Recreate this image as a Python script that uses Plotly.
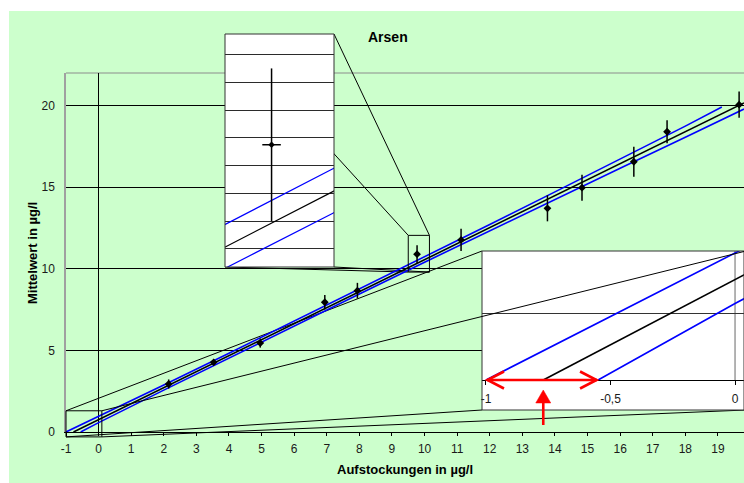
import plotly.graph_objects as go

# ---------------- data (µg/l) ----------------
# spike level, mean value found and their standard deviations
spike = [2.15, 3.53, 4.96, 6.94, 7.94, 9.77, 11.12, 13.77, 14.83, 16.42, 17.44, 19.65]
mean_found = [2.94, 4.27, 5.45, 7.95, 8.66, 10.90, 11.77, 13.71, 14.97, 16.56, 18.40, 20.06]
sd_found = [0.28, 0.16, 0.28, 0.45, 0.48, 0.55, 0.68, 0.80, 0.80, 0.92, 0.71, 0.80]
sd_spike = [0.035, 0.035, 0.035, 0.035, 0.035, 0.035, 0.035, 0.035, 0.035, 0.035, 0.035, 0.035]

# calibration line
fit_x = [-0.77, 19.8]
fit_y = [0.0, 20.17]

# upper and lower confidence limits
band_hi_x = [-1.0, 0, 2, 4, 6, 8, 10, 12, 14, 16, 18, 19.12]
band_hi_y = [0.0, 0.955, 2.885, 4.825, 6.785, 8.755, 10.725, 12.715, 14.715, 16.725, 18.745, 19.92]
band_lo_x = [-0.55, 0, 2, 4, 6, 8, 10, 12, 14, 16, 18, 19.8]
band_lo_y = [0.0, 0.575, 2.565, 4.545, 6.505, 8.455, 10.405, 12.335, 14.255, 16.165, 18.065, 19.79]

# axis ticks
x_tick_vals = [-1, 0, 1, 2, 3, 4, 5, 6, 7, 8, 9, 10, 11, 12, 13, 14, 15, 16, 17, 18, 19]
x_tick_text = ["-1", "0", "1", "2", "3", "4", "5", "6", "7", "8", "9", "10",
               "11", "12", "13", "14", "15", "16", "17", "18", "19"]
y_tick_vals = [0, 5, 10, 15, 20]
zoom_tick_vals = [-1, -0.5, 0]
zoom_tick_text = ["-1", "-0,5", "0"]

# ---------------- geometry ----------------
W, H = 744, 483
ML, MR, MT, MB = 66, 0, 30, 51
PW, PH = W - ML - MR, H - MT - MB
BOTTOM = H - MB          # pixel row of the x axis
MAIN_TOP = 73            # pixel row of the top of the main plot

FONT = "Liberation Sans, Arial, Helvetica, sans-serif"
GREEN = "#CCFFCC"
BLUE = "#0000FF"
RED = "#FF0000"


def fx(xp):
    """pixel column -> paper x"""
    return (xp - ML) / PW


def fy(yp):
    """pixel row -> paper y"""
    return (BOTTOM - yp) / PH


MAIN_X = [-1, 19.8]
MAIN_Y = [0, 22]
MAIN_BOX = (ML, MAIN_TOP, W, BOTTOM)

# magnified views: pixel box (left, top, right, bottom) and axis ranges
ZOOM1_BOX = (225, 34, 334, 267)
ZOOM1_X = [9.594, 10.006]
ZOOM1_Y = [10.019, 11.698]
ZOOM2_BOX = (482, 251, 744, 410)
ZOOM2_X = [-1.016, 0.036]
ZOOM2_Y = [-0.2256, 0.97]

# regions of the main plot that the magnified views show
REGION1 = ([9.5, 10.15], [9.8, 12.05])
REGION2 = ([-1.0, 0.1], [-0.3, 1.3])


def to_px(box, xr, x):
    return box[0] + (x - xr[0]) / (xr[1] - xr[0]) * (box[2] - box[0])


def to_py(box, yr, y):
    return box[3] - (y - yr[0]) / (yr[1] - yr[0]) * (box[3] - box[1])


def region_px(region):
    xr, yr = region
    return (to_px(MAIN_BOX, MAIN_X, xr[0]), to_py(MAIN_BOX, MAIN_Y, yr[1]),
            to_px(MAIN_BOX, MAIN_X, xr[1]), to_py(MAIN_BOX, MAIN_Y, yr[0]))


fig = go.Figure()


def add_series(xa, ya, lw, msize):
    fig.add_trace(go.Scatter(x=band_hi_x, y=band_hi_y, mode="lines",
                             line=dict(color=BLUE, width=lw), xaxis=xa, yaxis=ya,
                             showlegend=False, hoverinfo="skip"))
    fig.add_trace(go.Scatter(x=band_lo_x, y=band_lo_y, mode="lines",
                             line=dict(color=BLUE, width=lw), xaxis=xa, yaxis=ya,
                             showlegend=False, hoverinfo="skip"))
    fig.add_trace(go.Scatter(x=fit_x, y=fit_y, mode="lines",
                             line=dict(color="black", width=lw), xaxis=xa, yaxis=ya,
                             showlegend=False, hoverinfo="skip"))
    fig.add_trace(go.Scatter(
        x=spike, y=mean_found, mode="markers",
        marker=dict(symbol="diamond", size=msize, color="black"),
        error_y=dict(type="data", array=sd_found, color="black", thickness=1.5, width=0),
        error_x=dict(type="data", array=sd_spike, color="black", thickness=1.5, width=0),
        xaxis=xa, yaxis=ya, showlegend=False))


add_series("x", "y", 1.6, 6)
add_series("x2", "y2", 1.2, 5)
add_series("x3", "y3", 1.6, 5)

shapes = []

# green chart area
shapes.append(dict(type="rect", xref="paper", yref="paper", layer="below",
                   x0=fx(9), x1=fx(W) + 0.01, y0=fy(H) - 0.01, y1=fy(11),
                   fillcolor=GREEN, line=dict(width=0)))
# top border of the plot area
shapes.append(dict(type="line", xref="paper", yref="paper", layer="below",
                   x0=fx(ML), x1=fx(W), y0=fy(MAIN_TOP), y1=fy(MAIN_TOP),
                   line=dict(color="#8C8C8C", width=1)))


def link(p, q, layer):
    shapes.append(dict(type="line", xref="paper", yref="paper", layer=layer,
                       x0=fx(p[0]), y0=fy(p[1]), x1=fx(q[0]), y1=fy(q[1]),
                       line=dict(color="black", width=1)))


r1 = region_px(REGION1)
r2 = region_px(REGION2)
z1 = ZOOM1_BOX
z2 = (ZOOM2_BOX[0], ZOOM2_BOX[1], ZOOM2_BOX[2] + 2, ZOOM2_BOX[3])

# connectors hidden behind the magnified views
link((r1[0], r1[1]), (z1[0], z1[1]), "below")
link((r1[2], r1[1]), (z1[2], z1[1]), "below")
link((r1[0], r1[3]), (z1[0], z1[3]), "below")
link((r1[2], r1[3]), (z1[2], z1[3]), "below")
link((r2[0], r2[1]), (z2[0], z2[1]), "below")
link((r2[0], r2[3]), (z2[0], z2[3]), "below")
link((r2[2], r2[3]), (z2[2], z2[3]), "below")

# white backgrounds of the magnified views
shapes.append(dict(type="rect", xref="x2", yref="y2", layer="below",
                   x0=ZOOM1_X[0], x1=ZOOM1_X[1], y0=ZOOM1_Y[0], y1=ZOOM1_Y[1],
                   fillcolor="white", line=dict(width=0)))
shapes.append(dict(type="rect", xref="x3", yref="y3", layer="below",
                   x0=ZOOM2_X[0], x1=ZOOM2_X[1], y0=ZOOM2_Y[0], y1=ZOOM2_Y[1],
                   fillcolor="white", line=dict(width=0)))
shapes.append(dict(type="line", xref="x3", yref="y3", layer="below",
                   x0=0, x1=0, y0=0, y1=ZOOM2_Y[1],
                   line=dict(color="#808080", width=1.2)))

# frames of the regions and of the magnified views
for b, col in ((r1, "black"), (r2, "black"), (ZOOM1_BOX, "#333333"), (ZOOM2_BOX, "#333333")):
    shapes.append(dict(type="rect", xref="paper", yref="paper", layer="above",
                       x0=fx(b[0]), x1=fx(b[2]), y0=fy(b[3]), y1=fy(b[1]),
                       line=dict(color=col, width=1)))

# connector drawn across the lower magnified view
link((r2[2], r2[1]), (z2[2], z2[1]), "above")

# red arrows: width of the confidence interval at y = 0 and the x intercept
ya = to_py(ZOOM2_BOX, ZOOM2_Y, 0)
xl = to_px(ZOOM2_BOX, ZOOM2_X, band_hi_x[0])
xr = to_px(ZOOM2_BOX, ZOOM2_X, band_lo_x[0])
xc = to_px(ZOOM2_BOX, ZOOM2_X, fit_x[0])
HEAD_L, HEAD_W = 18, 8.5
shapes.append(dict(type="line", xref="paper", yref="paper", layer="above",
                   x0=fx(xl + 1), x1=fx(xr - 1), y0=fy(ya), y1=fy(ya),
                   line=dict(color=RED, width=2.6)))
for tip, d in ((xl, 1), (xr, -1)):
    path = "M {:.5f},{:.5f} L {:.5f},{:.5f} L {:.5f},{:.5f}".format(
        fx(tip + d * HEAD_L), fy(ya - HEAD_W), fx(tip + d * 1.5), fy(ya),
        fx(tip + d * HEAD_L), fy(ya + HEAD_W))
    shapes.append(dict(type="path", xref="paper", yref="paper", layer="above",
                       path=path, line=dict(color=RED, width=2.6)))
tip_y = ya + 10
shapes.append(dict(type="line", xref="paper", yref="paper", layer="above",
                   x0=fx(xc), x1=fx(xc), y0=fy(tip_y + 10), y1=fy(tip_y + 35),
                   line=dict(color=RED, width=2.6)))
shapes.append(dict(type="path", xref="paper", yref="paper", layer="above",
                   path="M {:.5f},{:.5f} L {:.5f},{:.5f} L {:.5f},{:.5f} Z".format(
                       fx(xc), fy(tip_y), fx(xc - 7.5), fy(tip_y + 13),
                       fx(xc + 7.5), fy(tip_y + 13)),
                   fillcolor=RED, line=dict(color=RED, width=0.5)))

tick_font = dict(family=FONT, size=12, color="#1a1a1a")


def label(text, x, y, size, angle=0):
    return dict(text=text, xref="paper", yref="paper", x=fx(x), y=fy(y),
                xanchor="center", yanchor="middle", textangle=angle,
                showarrow=False, font=dict(family=FONT, size=size, color="black"))


fig.update_layout(
    width=W, height=H,
    margin=dict(l=ML, r=MR, t=MT, b=MB, pad=0),
    paper_bgcolor="white",
    plot_bgcolor="white",
    showlegend=False,
    shapes=shapes,
    xaxis=dict(domain=[0, 1], range=MAIN_X, tickvals=x_tick_vals, ticktext=x_tick_text,
               showgrid=False, zeroline=True, zerolinecolor="black", zerolinewidth=1,
               showline=True, linecolor="black", linewidth=1,
               ticks="outside", ticklen=3, tickcolor="black", tickfont=tick_font,
               ticklabelstandoff=3, fixedrange=True),
    yaxis=dict(domain=[0, fy(MAIN_TOP)], range=MAIN_Y, tickvals=y_tick_vals,
               showgrid=True, gridcolor="black", gridwidth=1, zeroline=False,
               showline=True, linecolor="#A0A0A0", linewidth=1.5,
               ticks="", ticklabelstandoff=7, tickfont=tick_font, fixedrange=True),
    xaxis2=dict(domain=[fx(ZOOM1_BOX[0]), fx(ZOOM1_BOX[2])], range=ZOOM1_X, anchor="y2",
                showgrid=False, zeroline=False, showticklabels=False, ticks="",
                showline=False),
    yaxis2=dict(domain=[fy(ZOOM1_BOX[3]), fy(ZOOM1_BOX[1])], range=ZOOM1_Y, anchor="x2",
                tick0=10.149, dtick=0.2, showgrid=True, gridcolor="#2b2b2b", gridwidth=1,
                zeroline=False, showticklabels=False, ticks="", showline=False),
    xaxis3=dict(domain=[fx(ZOOM2_BOX[0]), fx(ZOOM2_BOX[2])], range=ZOOM2_X,
                anchor="free", position=fy(to_py(ZOOM2_BOX, ZOOM2_Y, 0)),
                tickvals=zoom_tick_vals, ticktext=zoom_tick_text,
                showgrid=False, zeroline=False, showline=True, linecolor="black",
                linewidth=1, ticks="outside", ticklen=4, tickcolor="black",
                tickfont=tick_font, ticklabelstandoff=4),
    yaxis3=dict(domain=[fy(ZOOM2_BOX[3]), fy(ZOOM2_BOX[1])], range=ZOOM2_Y, anchor="x3",
                tickvals=[0.5], showgrid=True, gridcolor="#333333", gridwidth=1,
                zeroline=False, showticklabels=False, ticks="", showline=False),
    annotations=[
        label("<b>Arsen</b>", 388, 37, 14),
        label("<b>Aufstockungen in µg/l</b>", 405, 470, 13),
        label("<b>Mittelwert in µg/l</b>", 32, 253, 13, -90),
    ],
)

fig.write_html("out.html")
